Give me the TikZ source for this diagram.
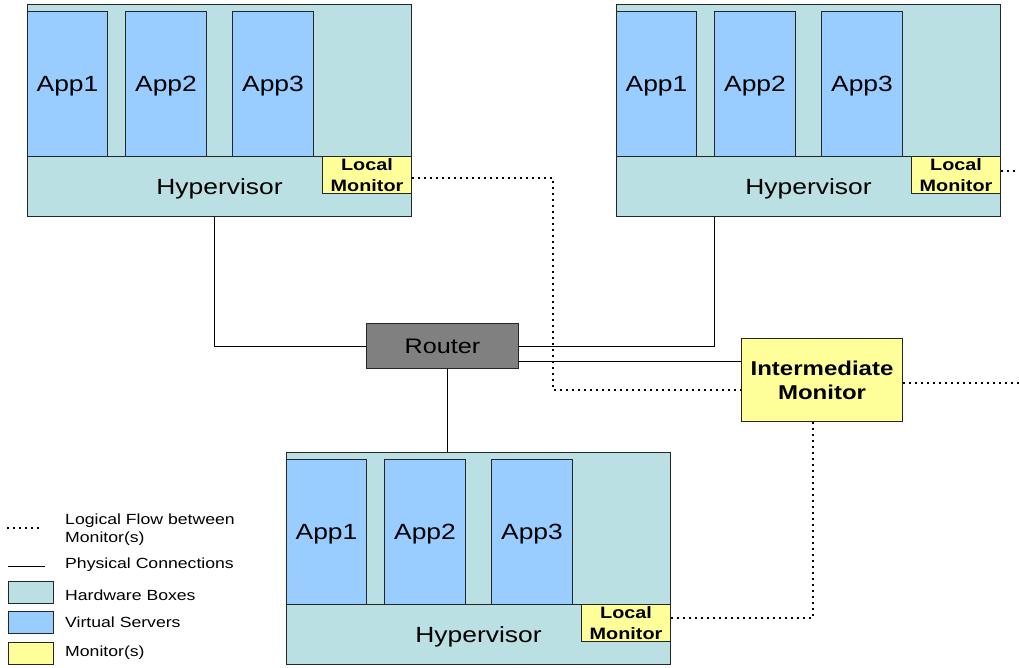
\documentclass[tikz,border=0pt]{standalone}
\usepackage{fontspec}
\setmainfont{Liberation Sans}[FakeStretch=1.2]
\usetikzlibrary{calc}
\definecolor{hwcol}{RGB}{187,224,227}
\definecolor{vscol}{RGB}{153,204,255}
\definecolor{moncol}{RGB}{255,255,153}
\definecolor{rtcol}{RGB}{128,128,128}
\tikzset{
  base/.style={draw=black!85, line width=1pt, inner sep=0pt, anchor=north west},
  hwbox/.style={base, fill=hwcol},
  vsbox/.style={base, fill=vscol, text depth=0pt, font=\fontsize{22}{25}\selectfont},
  hvbox/.style={base, fill=hwcol, text depth=0pt, font=\fontsize{22}{26}\selectfont},
  lmbox/.style={base, fill=moncol, align=center, font=\bfseries\fontsize{16.5}{20.5}\selectfont},
  phys/.style={draw=black, line width=1pt},
  logic/.style={draw=black, line width=2pt, dash pattern=on 2pt off 4pt},
  legtext/.style={anchor=west, inner sep=0pt, align=left, font=\fontsize{14.7}{18}\selectfont},
}
\newcommand{\serverbox}[3]{%
  \node[hwbox, minimum width=384, minimum height=212] (#1hw) at (#2,#3) {};
  \node[vsbox, minimum width=80, minimum height=145] (#1a1) at (#2,#3+7) {App1};
  \node[vsbox, minimum width=81, minimum height=145] (#1a2) at (#2+98,#3+7) {App2};
  \node[vsbox, minimum width=81, minimum height=145] (#1a3) at (#2+205,#3+7) {App3};
  \node[hvbox, minimum width=384, minimum height=60] (#1hv) at (#2,#3+152) {Hypervisor};
  \node[lmbox, minimum width=89, minimum height=37] (#1lm) at (#2+295,#3+152) {Local\\Monitor};
}
\begin{document}
\begin{tikzpicture}[x=1pt,y=-1pt]
\useasboundingbox (0,0) rectangle (1019,668);
% servers
\serverbox{A}{27}{4}
\serverbox{B}{616}{4}
\serverbox{C}{286}{452}
% router and intermediate monitor
\node[base, fill=rtcol, text depth=0pt, minimum width=152, minimum height=45, font=\fontsize{21}{25}\selectfont] (router) at (366,323) {Router};
\node[base, fill=moncol, minimum width=161, minimum height=83, align=center, font=\bfseries\fontsize{20}{24}\selectfont] (im) at (741,338) {Intermediate\\Monitor};
% physical connections
\coordinate (j1) at (214,346);
\coordinate (j2) at (714,345);
\coordinate (j3) at (447,0);
\coordinate (j4) at (0,361);
\draw[phys] (Ahw.south -| j1) |- (router.west);
\draw[phys] (router.east) -| (Bhw.south -| j2);
\draw[phys] (router.south -| j3) -- (Chw.north -| j3);
\draw[phys] (router.east |- j4) -- (im.west |- j4);
% logical flow
\coordinate (d1) at (553,390);
\coordinate (d2) at (813,618);
\coordinate (e1) at (1019,171);
\coordinate (e2) at (1019,383);
\draw[logic] ([yshift=-3pt]Alm.east) -| (d1) -- (im.west |- d1);
\draw[logic] (Blm.east |- e1) -- (e1);
\draw[logic] (im.east |- e2) -- (e2);
\draw[logic] (im.south -| d2) |- (Clm.east |- d2);
% legend
\coordinate (l1a) at (7,528);
\coordinate (l1b) at (40,528);
\coordinate (l2a) at (8,566);
\coordinate (l2b) at (45,566);
\draw[logic] (l1a) -- (l1b);
\draw[phys] (l2a) -- (l2b);
\node[legtext] (t1) at (65,530) {Logical Flow between\\Monitor(s)};
\node[legtext] (t2) at (65,565) {Physical Connections};
\node[base, fill=hwcol, minimum width=45, minimum height=22] (s1) at (8,581) {};
\node[base, fill=vscol, minimum width=45, minimum height=22] (s2) at (8,611) {};
\node[base, fill=moncol, minimum width=45, minimum height=22] (s3) at (8,642) {};
\node[legtext] (t3) at (65,595) {Hardware Boxes};
\node[legtext] (t4) at (65,622) {Virtual Servers};
\node[legtext] (t5) at (65,653) {Monitor(s)};
\end{tikzpicture}
\end{document}
